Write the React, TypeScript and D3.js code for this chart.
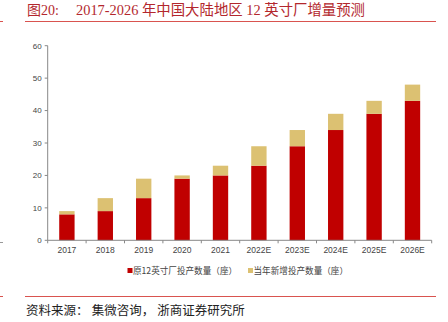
import React from "react";
import * as d3 from "d3";

const categories = ["2017", "2018", "2019", "2020", "2021", "2022E", "2023E", "2024E", "2025E", "2026E"];
const existingFabs = [8, 9, 13, 19, 20, 23, 29, 34, 39, 43];
const newFabs = [1, 4, 6, 1, 3, 6, 5, 5, 4, 5];
const yTicks = [0, 10, 20, 30, 40, 50, 60];
const seriesNames = ["原12英寸厂投产数量（座）", "当年新增投产数量（座）"];
const colors = ["#C00000", "#DCC172"];
const titleLabel = "图20:";
const titleText = "2017-2026 年中国大陆地区 12 英寸厂增量预测";
const sourceText = "资料来源： 集微咨询， 浙商证券研究所";

export default function App() {
  const W = 448, H = 322;
  const x0 = 47.7, x1 = 431.7, yBottom = 240.3, yTop = 45.7;
  const x = d3.scaleBand<string>().domain(categories).range([x0, x1]).paddingInner(0.6).paddingOuter(0.3);
  const y = d3.scaleLinear().domain([0, 60]).range([yBottom, yTop]);
  const step = x.step();
  const tickFont = "'Liberation Sans', Arial, sans-serif";
  const cjkSerif = "'Liberation Serif', 'Noto Sans CJK SC', serif";

  return (
    <svg width={W} height={H} style={{ position: "absolute", left: 0, top: 0, background: "#fff" }}>
      {/* title */}
      <text x={27} y={15} fontSize={14} fill="#B3272D" fontFamily={cjkSerif}>{titleLabel}</text>
      <text x={76} y={15} fontSize={14.4} fill="#B3272D" fontFamily={cjkSerif}>{titleText}</text>
      <line x1={25} x2={436} y1={21.5} y2={21.5} stroke="#D9534F" strokeWidth={1} />
      <line x1={0} x2={3} y1={21.5} y2={21.5} stroke="#D9534F" strokeWidth={1} />

      {/* y axis */}
      <line x1={x0} x2={x0} y1={yTop} y2={yBottom} stroke="#888" strokeWidth={1} />
      {yTicks.map((t) => (
        <g key={t}>
          <line x1={x0 - 3} x2={x0} y1={y(t)} y2={y(t)} stroke="#888" />
          <text x={x0 - 6} y={y(t)} dy="0.35em" textAnchor="end" fontSize={8} fill="#444" fontFamily={tickFont}>{t}</text>
        </g>
      ))}

      {/* bars */}
      {categories.map((c, i) => {
        const bx = x(c) as number;
        const bw = x.bandwidth();
        return (
          <g key={c}>
            <rect x={bx} y={y(existingFabs[i])} width={bw} height={y(0) - y(existingFabs[i])} fill={colors[0]} />
            <rect x={bx} y={y(existingFabs[i] + newFabs[i])} width={bw} height={y(existingFabs[i]) - y(existingFabs[i] + newFabs[i])} fill={colors[1]} />
          </g>
        );
      })}

      {/* x axis */}
      <line x1={x0} x2={x1} y1={yBottom} y2={yBottom} stroke="#888" strokeWidth={1} />
      {categories.map((c, i) => (
        <line key={"t" + c} x1={x0 + step * (i + 1)} x2={x0 + step * (i + 1)} y1={yBottom} y2={yBottom + 3} stroke="#888" />
      ))}
      <line x1={x0} x2={x0} y1={yBottom} y2={yBottom + 3} stroke="#888" />
      {categories.map((c) => (
        <text key={"l" + c} x={(x(c) as number) + x.bandwidth() / 2} y={253} textAnchor="middle" fontSize={8.5} fill="#444" fontFamily={tickFont}>{c}</text>
      ))}

      {/* legend */}
      <rect x={127.5} y={268} width={5} height={5} fill={colors[0]} />
      <text x={133} y={273.5} fontSize={8.6} fill="#444" fontFamily="'Noto Sans CJK SC', sans-serif">{seriesNames[0]}</text>
      <rect x={248} y={268} width={5} height={5} fill={colors[1]} />
      <text x={253.5} y={273.5} fontSize={8.6} fill="#444" fontFamily="'Noto Sans CJK SC', sans-serif">{seriesNames[1]}</text>

      {/* left margin marks */}
      <line x1={0} x2={3} y1={242.5} y2={242.5} stroke="#999" />
      <line x1={0} x2={3} y1={296.5} y2={296.5} stroke="#D9534F" />

      {/* bottom rule and source */}
      <line x1={25} x2={436} y1={296.5} y2={296.5} stroke="#D9534F" strokeWidth={1} />
      <text x={26} y={315} fontSize={12.5} fill="#222" fontFamily={cjkSerif}>{sourceText}</text>
    </svg>
  );
}
